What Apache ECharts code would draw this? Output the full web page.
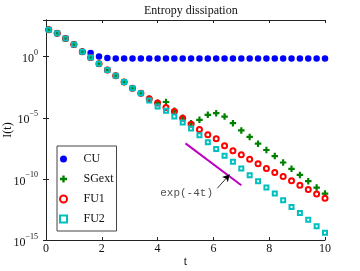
<!DOCTYPE html>
<html>
<head>
<meta charset="utf-8">
<script src="https://cdn.jsdelivr.net/npm/echarts@6/dist/echarts.min.js"></script>
<style>html,body{margin:0;padding:0;background:#fff}#c{width:360px;height:271px}</style>
</head>
<body>
<div id="c"></div>
<script>
var titleText = 'Entropy dissipation';
var xName = 't';
var yName = 'I(t)';
var seriesNames = ['CU', 'SGext', 'FU1', 'FU2'];
var tValues = [0.1,0.4,0.7,1.0,1.3,1.6,1.9,2.2,2.5,2.8,3.1,3.4,3.7,4.0,4.3,4.6,4.9,5.2,5.5,5.8,6.1,6.4,6.7,7.0,7.3,7.6,7.9,8.2,8.5,8.8,9.1,9.4,9.7,10.0];
var cuValues = [162,81,30,10,2.5,1.95,1.05,0.76,0.7,0.7,0.7,0.7,0.7,0.7,0.7,0.7,0.7,0.7,0.7,0.7,0.7,0.7,0.7,0.7,0.7,0.7,0.7,0.7,0.7,0.7,0.7,0.7,0.7,0.7];
var sgextValues = [162,81,30,10,2.5,0.85,0.26,0.083,0.027,8.5e-3,2.6e-3,1.0e-3,3.6e-4,1.66e-4,1.95e-4,3.7e-5,1.0e-5,3.6e-6,6.8e-6,1.74e-5,2.4e-5,1.26e-5,3.6e-6,9.3e-7,2.7e-7,7.6e-8,2.3e-8,7.4e-9,2.2e-9,6.6e-10,2.1e-10,6.5e-11,1.95e-11,6.3e-12];
var fu1Values = [162,81,30,10,2.5,0.85,0.26,0.083,0.027,8.5e-3,2.6e-3,1.0e-3,3.6e-4,1.6e-4,6.9e-5,3.3e-5,9.3e-6,3.0e-6,1.1e-6,4.0e-7,1.9e-7,5.2e-8,2.0e-8,9.5e-9,4.0e-9,1.7e-9,7.2e-10,3.4e-10,1.6e-10,6.9e-11,3.0e-11,1.35e-11,5.9e-12,2.6e-12];
var fu2Values = [162,81,30,10,2.5,0.85,0.26,0.083,0.027,8.5e-3,2.6e-3,1.0e-3,2.6e-4,8.5e-5,3.8e-5,1.26e-5,4.1e-6,1.3e-6,3.8e-7,1.0e-7,2.75e-8,7.8e-9,2.5e-9,7.1e-10,2.0e-10,6.5e-11,1.95e-11,6.3e-12,1.8e-12,5.0e-13,1.6e-13,4.6e-14,1.35e-14,3.9e-15];
var refLineT = [5, 7];
var refLineValues = [8.1e-8, 3.0e-11];
var arrowT = [6.14, 6.58];
var arrowValues = [1.7e-11, 2.3e-10];
var annotationText = 'exp(-4t)';
var annotationT = 5.04;
var annotationValue = 6.5e-12;
var xTicks = [0, 2, 4, 6, 8, 10];

function pairs(xs, ys) { return xs.map(function (x, i) { return [x, ys[i]]; }); }

var serif = 'Liberation Serif';
var axisColor = '#222';
var squarePath = 'path://M0,0H10V10H0Z';
var plusPath = 'path://M-1,-3H1V-1H3V1H1V3H-1V1H-3V-1H-1Z';
var chart = echarts.init(document.getElementById('c'), null, {renderer: 'canvas'});

function yFmt(v) {
  var e = Math.round(Math.log10(v));
  if (e % 5 !== 0) return '';
  return '{b|10}{s|' + (e < 0 ? '\u2212' + (-e) : e) + '}';
}

var option = {
  animation: false,
  backgroundColor: '#fff',
  title: {
    text: titleText, left: 139, top: 0,
    textStyle: {fontFamily: serif, fontSize: 12, fontWeight: 'normal', color: '#111'}
  },
  legend: {
    data: [
      {name: seriesNames[0], icon: 'circle'},
      {name: seriesNames[1], icon: plusPath},
      {name: seriesNames[2], icon: 'circle'},
      {name: seriesNames[3], icon: squarePath}
    ],
    orient: 'vertical', left: 57, top: 146,
    padding: [6, 3, 5, 2],
    itemWidth: 30, itemHeight: 7, itemGap: 6,
    symbolKeepAspect: true,
    backgroundColor: '#fff', borderColor: '#444', borderWidth: 1,
    textStyle: {fontFamily: serif, fontSize: 12, color: '#111', lineHeight: 14}
  },
  grid: {left: 46, top: 20, right: 35, bottom: 31, containLabel: false, outerBoundsMode: 'none'},
  xAxis: [{
    type: 'value', min: xTicks[0], max: xTicks[xTicks.length - 1], interval: 2,
    name: xName, nameLocation: 'middle', nameGap: 16, nameMoveOverlap: false,
    nameTextStyle: {fontFamily: serif, fontSize: 12, color: '#111'},
    axisLine: {lineStyle: {color: axisColor, width: 1}},
    axisTick: {inside: true, length: 3, lineStyle: {color: axisColor}},
    axisLabel: {fontFamily: serif, fontSize: 12, color: '#111', margin: 3},
    splitLine: {show: false}
  }, {
    type: 'value', position: 'top', min: xTicks[0], max: xTicks[xTicks.length - 1], interval: 2,
    axisLine: {lineStyle: {color: axisColor, width: 1}},
    axisTick: {inside: true, length: 3, lineStyle: {color: axisColor}},
    axisLabel: {show: false}, splitLine: {show: false}
  }],
  yAxis: [{
    type: 'log', logBase: 10, min: 1e-15, max: 1e3, interval: 5,
    name: yName, nameLocation: 'middle', nameGap: 32, nameMoveOverlap: false,
    nameTextStyle: {fontFamily: serif, fontSize: 12, color: '#111'},
    axisLine: {show: true, lineStyle: {color: axisColor, width: 1}},
    axisTick: {inside: true, length: 3, lineStyle: {color: axisColor}},
    axisLabel: {
      margin: 8, formatter: yFmt, showMaxLabel: false,
      rich: {
        b: {fontFamily: serif, fontSize: 12, color: '#111', padding: [5, 0, 0, 0]},
        s: {fontFamily: serif, fontSize: 8, color: '#111', padding: [0, 0, 7, 0]}
      }
    },
    splitLine: {show: false}, minorTick: {show: false}
  }, {
    type: 'log', logBase: 10, min: 1e-15, max: 1e3, interval: 5, position: 'right',
    axisLine: {show: true, lineStyle: {color: axisColor, width: 1}},
    axisTick: {inside: true, length: 3, lineStyle: {color: axisColor}},
    axisLabel: {show: false}, splitLine: {show: false}
  }],
  series: [{
    name: 'CU', type: 'scatter', data: pairs(tValues, cuValues),
    symbol: 'circle', symbolSize: 6.5, itemStyle: {color: '#0000ff', opacity: 1}
  }, {
    name: 'SGext', type: 'scatter', data: pairs(tValues, sgextValues),
    symbol: plusPath, symbolSize: 6.5,
    itemStyle: {color: '#008000', opacity: 1}
  }, {
    name: 'FU1', type: 'scatter', data: pairs(tValues, fu1Values),
    symbol: 'circle', symbolSize: 5,
    itemStyle: {color: 'rgba(255,255,255,0)', borderColor: '#ff0000', borderWidth: 2, opacity: 1}
  }, {
    name: 'FU2', type: 'scatter', data: pairs(tValues, fu2Values),
    symbol: squarePath, symbolSize: 4,
    itemStyle: {color: 'rgba(255,255,255,0)', borderColor: '#00bfbf', borderWidth: 2, opacity: 1}
  }, {
    name: 'ref', type: 'line', data: pairs(refLineT, refLineValues),
    showSymbol: false, symbol: 'none', lineStyle: {color: '#bf00bf', width: 2},
    markLine: {
      silent: true, symbol: ['none', 'arrow'], symbolSize: [6, 7],
      label: {show: false},
      lineStyle: {color: '#000', width: 0.8, type: 'solid'},
      data: [[{coord: [arrowT[0], arrowValues[0]]}, {coord: [arrowT[1], arrowValues[1]]}]]
    }
  }, {
    name: 'annot', type: 'scatter', symbolSize: 0,
    data: [[annotationT, annotationValue]],
    label: {show: true, position: 'inside', formatter: annotationText,
      fontFamily: 'Liberation Mono', fontSize: 11, color: '#222'}
  }]
};
chart.setOption(option);
</script>
</body>
</html>
